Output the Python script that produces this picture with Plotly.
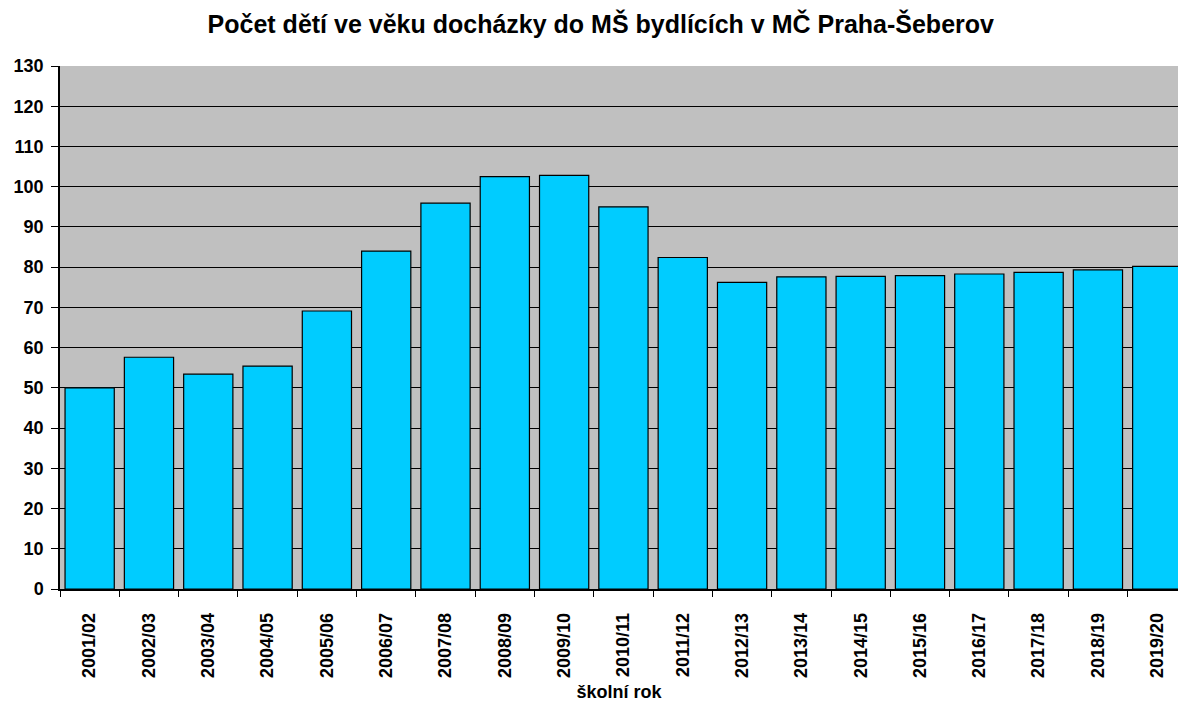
import plotly.graph_objects as go

categories = ["2001/02", "2002/03", "2003/04", "2004/05", "2005/06", "2006/07",
              "2007/08", "2008/09", "2009/10", "2010/11", "2011/12", "2012/13",
              "2013/14", "2014/15", "2015/16", "2016/17", "2017/18", "2018/19",
              "2019/20"]
values = [50.0, 57.6, 53.4, 55.4, 69.1, 84.0, 95.9, 102.5, 102.8, 95.0, 82.4,
          76.2, 77.6, 77.7, 77.9, 78.3, 78.7, 79.3, 80.2]
y_ticks = list(range(0, 131, 10))

title_text = "Počet dětí ve věku docházky do MŠ bydlících v MČ Praha-Šeberov"
x_title = "školní rok"

FONT = "Liberation Sans, Arial, sans-serif"

fig = go.Figure(go.Bar(
    x=categories, y=values,
    marker=dict(color="#00CCFF", line=dict(color="black", width=1.2)),
    hoverinfo="x+y",
))

fig.update_layout(
    width=1178, height=704,
    margin=dict(l=60, r=0, t=66, b=115, autoexpand=False),
    paper_bgcolor="white",
    plot_bgcolor="#C0C0C0",
    bargap=0.17,
    showlegend=False,
    title=dict(text="<b>" + title_text + "</b>", x=0.51, xanchor="center",
               y=0.965, yanchor="middle",
               font=dict(family=FONT, size=25, color="black")),
    font=dict(family=FONT, color="black"),
)

fig.update_xaxes(
    range=[-0.5, len(categories) - 0.65],
    tickangle=-90,
    tickfont=dict(family=FONT, size=18, color="black", weight="bold"),
    ticks="outside", ticklen=6, tickcolor="black", tickson="boundaries",
    ticklabelstandoff=15,
    showline=True, linecolor="black", linewidth=1.5,
    showgrid=False, automargin=False,
    title=dict(text="<b>" + x_title + "</b>", standoff=8,
               font=dict(family=FONT, size=18, color="black")),
)

fig.update_yaxes(
    range=[0, 130],
    tickvals=y_ticks,
    tickfont=dict(family=FONT, size=18, color="black", weight="bold"),
    ticks="outside", ticklen=7, tickcolor="black",
    ticklabelstandoff=4,
    showline=True, linecolor="black", linewidth=1.5,
    showgrid=True, gridcolor="black", gridwidth=1,
    zeroline=False, automargin=False,
)

fig.write_html("out.html",
               config={"displayModeBar": False},
               post_script="document.body.style.margin='0';"
                           "document.body.style.overflow='hidden';")
